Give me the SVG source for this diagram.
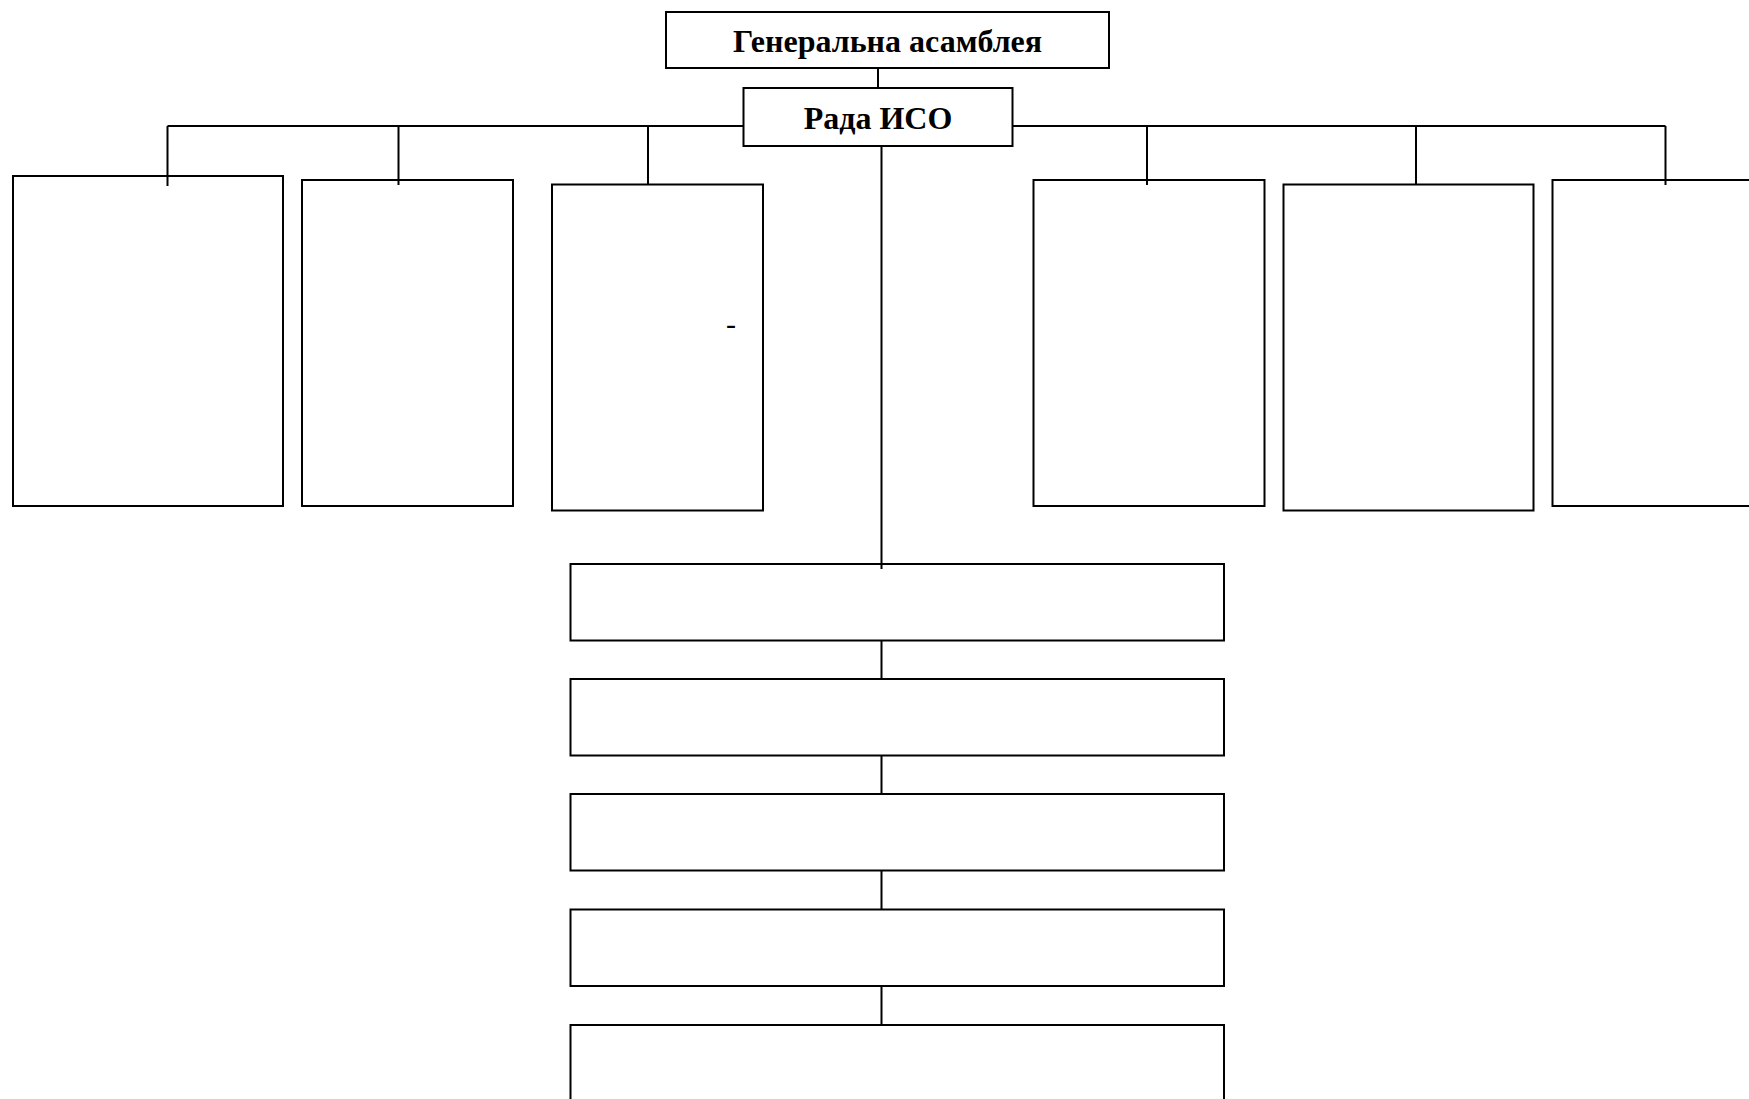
<svg xmlns="http://www.w3.org/2000/svg" width="1749" height="1099" viewBox="0 0 1749 1099">
<style>
.box{fill:#fff;stroke:#000;stroke-width:2}
.ln{stroke:#000;stroke-width:2;fill:none}
.t{font-family:"Liberation Serif","Times New Roman",serif;font-weight:bold;font-size:32px;fill:#000;text-anchor:middle}
.d{font-family:"Liberation Serif","Times New Roman",serif;font-size:30px;fill:#000;text-anchor:middle}
</style>
<rect width="1749" height="1099" fill="#fff"/>
<g id="general-assembly"><rect class="box" x="666" y="12" width="443" height="56"/><text class="t" x="887.5" y="52">Генеральна асамблея</text></g>
<g id="iso-council"><rect class="box" x="743.5" y="88" width="269" height="58"/><text class="t" x="878" y="129">Рада ИСО</text></g>
<g id="box1"><rect class="box" x="13" y="176" width="270" height="330"/></g>
<g id="box2"><rect class="box" x="302" y="180" width="211" height="326"/></g>
<g id="box3"><rect class="box" x="552" y="184.5" width="211" height="326"/><text class="d" x="731" y="334">-</text></g>
<g id="box4"><rect class="box" x="1033.5" y="180" width="231" height="326"/></g>
<g id="box5"><rect class="box" x="1283.5" y="184.5" width="250" height="326"/></g>
<g id="box6"><rect class="box" x="1552.5" y="180" width="220" height="326"/></g>
<g id="box7"><rect class="box" x="570.5" y="564" width="653.5" height="76.5"/></g>
<g id="box8"><rect class="box" x="570.5" y="679" width="653.5" height="76.5"/></g>
<g id="box9"><rect class="box" x="570.5" y="794" width="653.5" height="76.5"/></g>
<g id="box10"><rect class="box" x="570.5" y="909.5" width="653.5" height="76.5"/></g>
<g id="box11"><rect class="box" x="570.5" y="1025" width="653.5" height="100"/></g>
<g id="connectors">
<path class="ln" d="M878 68V88"/>
<path class="ln" d="M167.5 126H743.5M1012.5 126H1665.5"/>
<path class="ln" d="M167.5 126V186M398.5 126V185M648 126V184.5M1147 126V185M1416 126V184.5M1665.5 126V185"/>
<path class="ln" d="M881.5 146V569"/>
<path class="ln" d="M881.5 640.5V679M881.5 755.5V794M881.5 870.5V909.5M881.5 986V1025"/>
</g>
</svg>
